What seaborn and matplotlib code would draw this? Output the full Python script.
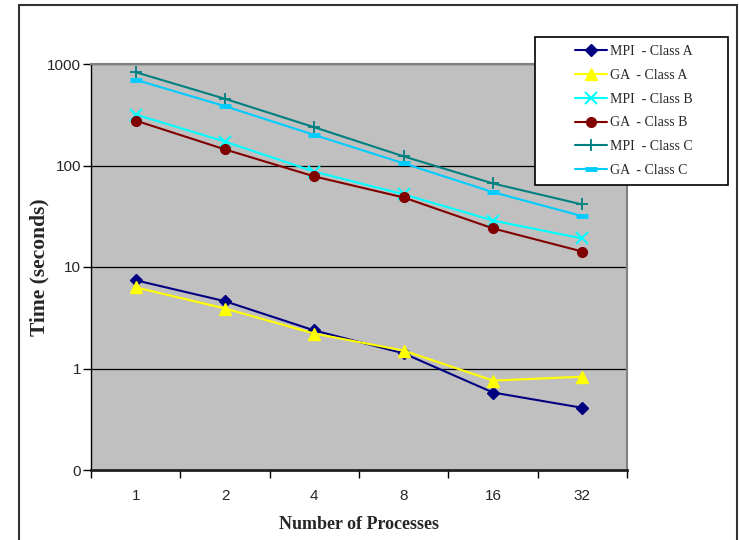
import numpy as np
import pandas as pd
import matplotlib
matplotlib.use('Agg')
import matplotlib.pyplot as plt
from matplotlib.patches import Rectangle
from matplotlib.ticker import FixedLocator, NullFormatter, NullLocator
import seaborn as sns

# Data
processes = ['1', '2', '4', '8', '16', '32']
mpi_a = [7.4, 4.6, 2.37, 1.41, 0.58, 0.41]
ga_a = [6.3, 3.9, 2.21, 1.5, 0.76, 0.83]
mpi_b = [318, 172, 87, 52, 28.7, 19.1]
ga_b = [277, 144, 78, 48.4, 24, 14.2]
mpi_c = [830, 454, 238, 123, 66.5, 41.3]
ga_c = [699, 384, 200, 105, 54.6, 31.7]

series = [
  ('MPI  - Class A', mpi_a, '#000080', 'D', 6, 1),
  ('GA  - Class A', ga_a, '#FFFF00', '^', 8, 1),
  ('MPI  - Class B', mpi_b, '#00FFFF', 'x', 8, 1.5),
  ('GA  - Class B', ga_b, '#800000', 'o', 7, 1),
  ('MPI  - Class C', mpi_c, '#008080', '+', 9, 1.3),
  ('GA  - Class C', ga_c, '#00CCFF', '_', 9, 3.5),
]

sns.set_style('white')
plt.rcParams['font.family'] = ['Liberation Sans', 'DejaVu Sans']

fig = plt.figure(figsize=(7.39, 5.40), dpi=100)
ax = fig.add_axes([91/739, 1 - 470/540, 536/739, 406/540])
ax.set_facecolor('#C0C0C0')

x = np.arange(len(processes))
for label, vals, color, marker, ms, mew in series:
  sns.lineplot(x=x, y=vals, ax=ax, color=color, marker=marker, markersize=ms,
               markeredgewidth=mew, markeredgecolor=color, linewidth=1.5, label=label)

ax.set_yscale('log')
ax.set_ylim(0.1, 1000)
ax.set_xlim(-0.5, len(processes) - 0.5)

# y ticks: major decades, labels as in the original
ax.yaxis.set_major_locator(FixedLocator([0.1, 1, 10, 100, 1000]))
ax.yaxis.set_minor_locator(NullLocator())
ax.set_yticklabels(['0', '1', '10', '100', '1000'])
ax.tick_params(axis='y', which='major', direction='out', length=6, width=1, color='black',
               labelsize=11, left=True, pad=1)
for yv in [1, 10, 100, 1000]:
  ax.axhline(yv, color='black', linewidth=0.9, zorder=1)

# x ticks: marks at category boundaries, labels at centres
ax.xaxis.set_major_locator(FixedLocator(np.arange(-0.5, len(processes), 1.0)))
ax.xaxis.set_major_formatter(NullFormatter())
ax.xaxis.set_minor_locator(FixedLocator(x))
ax.set_xticklabels(processes, minor=True)
ax.tick_params(axis='x', which='major', direction='out', length=6, width=1, color='black', bottom=True)
ax.tick_params(axis='x', which='minor', length=0, labelsize=11, pad=14)

for side in ['top', 'right']:
  ax.spines[side].set_color('#808080')
  ax.spines[side].set_linewidth(1.5)
ax.spines['left'].set_color('black')
ax.spines['left'].set_linewidth(1)
ax.spines['bottom'].set_color('#202020')
ax.spines['bottom'].set_linewidth(2)

ax.set_xlabel('Number of Processes', family='Liberation Serif', fontweight='bold', fontsize=13)
ax.set_ylabel('Time (seconds)', family='Liberation Serif', fontweight='bold', fontsize=15.5)
ax.xaxis.set_label_coords(0.5, -0.113)
ax.yaxis.set_label_coords(-0.078, 0.5)

# legend as a figure legend on top of a separately drawn box (matches the original padding)
handles, labels = ax.get_legend_handles_labels()
ax.get_legend().remove()
fig.patches.append(Rectangle((535/739, 1 - 185/540), 193/739, 148/540, transform=fig.transFigure,
                             facecolor='white', edgecolor='black', linewidth=1.2, zorder=10))
leg = fig.legend(handles, labels, loc='upper left', bbox_to_anchor=(575/739, 1 - 45/540),
                 prop={'family': 'Liberation Serif', 'size': 10}, frameon=False,
                 borderpad=0, labelspacing=0.78, handlelength=2.3, handletextpad=0.25,
                 borderaxespad=0)
leg.set_zorder(11)

# outer chart frame
fig.patches.append(Rectangle((19/739, -0.05), 718/739, 1.05 - 5/540, transform=fig.transFigure,
                             fill=False, edgecolor='#333333', linewidth=1.5))

fig.savefig('out.png', dpi=100)
